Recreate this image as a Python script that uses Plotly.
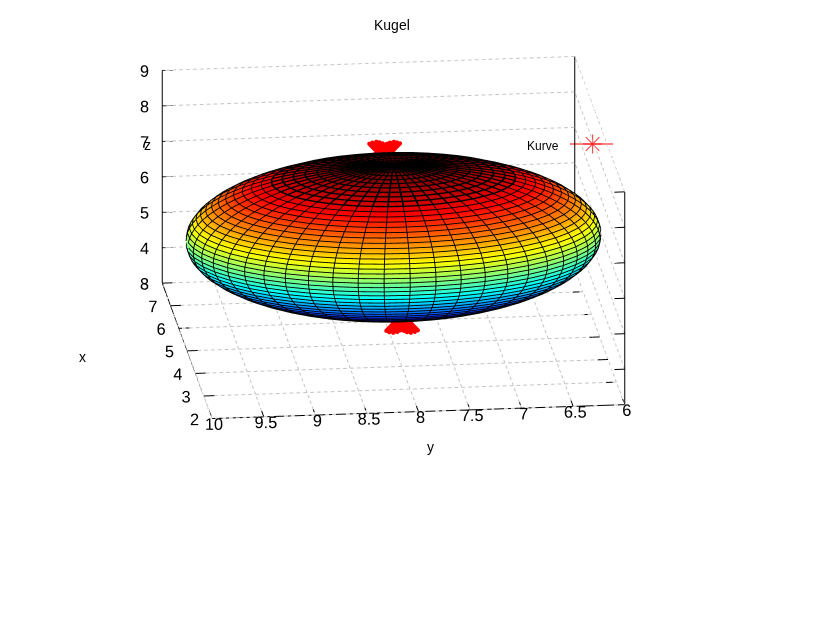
import plotly.graph_objects as go
import numpy as np

x_ticks = [2, 3, 4, 5, 6, 7, 8]
y_ticks = [6, 6.5, 7, 7.5, 8, 8.5, 9, 9.5, 10]
y_labels = ['6', '6.5', '7', '7.5', '8', '8.5', '9', '9.5', '10']
z_ticks = [3, 4, 5, 6, 7, 8, 9]

# sphere
center = [5, 8, 6]
radius = 2
n_seg = 50

# the red curve, two clusters of stars poking out behind the sphere
curve_x = [6.14, 6.14, 6.14, 6.14, 6.14, 5, 5, 5, 5, 5]
curve_y = [8.058, 8.029, 7.99, 7.961, 7.932, 7.985, 7.956, 7.918, 7.879, 7.85]
curve_z = [7.68, 7.71, 7.73, 7.71, 7.68, 3.62, 3.58, 3.56, 3.58, 3.62]

jet_anchors = [(0, '#00008f'), (0.125, '#0000ff'), (0.375, '#00ffff'), (0.625, '#ffff00'),
               (0.875, '#ff0000'), (1, '#800000')]


def jet_steps(n=64):
  stops = [a[0] for a in jet_anchors]
  rgb = np.array([[int(c[i:i+2], 16) for i in (1, 3, 5)] for _, c in jet_anchors])
  scale = []
  for k in range(n):
    m = (k + 0.5) / n
    col = [int(np.interp(m, stops, rgb[:, j])) for j in range(3)]
    c = 'rgb(%d,%d,%d)' % tuple(col)
    scale += [[k / n, c], [(k + 1) / n, c]]
  return scale


def sphere_grid(r):
  lat = np.linspace(-np.pi / 2, np.pi / 2, n_seg + 1)
  lon = np.linspace(-np.pi, np.pi, n_seg + 1)
  sx = center[0] + r * np.outer(np.cos(lat), np.cos(lon))
  sy = center[1] + r * np.outer(np.cos(lat), np.sin(lon))
  sz = center[2] + r * np.outer(np.sin(lat), np.ones_like(lon))
  return sx, sy, sz


def segs(pairs):
  xs, ys, zs = [], [], []
  for p1, p2 in pairs:
    xs += [p1[0], p2[0], None]
    ys += [p1[1], p2[1], None]
    zs += [p1[2], p2[2], None]
  return xs, ys, zs


def dashed(p1, p2, n):
  # scatter3d dash patterns come out far too long here, so cut the line up by hand
  p1, p2 = np.array(p1, float), np.array(p2, float)
  out = []
  for k in range(n):
    out.append((p1 + (p2 - p1) * k / n, p1 + (p2 - p1) * (k + 0.55) / n))
  return out


def wires(i_from, i_to, width):
  # rings i_from..i_to and the meridian pieces between them
  wx, wy, wz = sphere_grid(radius * 1.004)
  xs, ys, zs = [], [], []
  for i in range(max(i_from, 1), min(i_to, n_seg - 1) + 1):
    xs += list(wx[i, :]) + [None]
    ys += list(wy[i, :]) + [None]
    zs += list(wz[i, :]) + [None]
  for j in range(n_seg):
    xs += list(wx[i_from:i_to + 1, j]) + [None]
    ys += list(wy[i_from:i_to + 1, j]) + [None]
    zs += list(wz[i_from:i_to + 1, j]) + [None]
  return go.Scatter3d(x=xs, y=ys, z=zs, mode='lines', showlegend=False, hoverinfo='skip',
                      line=dict(color='black', width=width))


fig = go.Figure()

# dashed grid: floor and the two back walls
grid = []
for y in y_ticks:
  grid += dashed((2, y, 3), (8, y, 3), 24)
for x in x_ticks:
  grid += dashed((x, 6, 3), (x, 10, 3), 60)
for z in z_ticks:
  grid += dashed((8, 6, z), (8, 10, z), 60)
  grid += dashed((2, 6, z), (8, 6, z), 24)
gx, gy, gz = segs(grid)
fig.add_trace(go.Scatter3d(x=gx, y=gy, z=gz, mode='lines', showlegend=False, hoverinfo='skip',
                           line=dict(color='#c4c4c4', width=2)))

# box edges and inward ticks
box = [((2, 10, 3), (8, 10, 3)), ((2, 10, 3), (2, 6, 3)), ((8, 10, 3), (8, 10, 9)),
       ((2, 6, 3), (2, 6, 9)), ((8, 6, 3), (8, 6, 9))]
box += [((x, 10, 3), (x, 9.9, 3)) for x in x_ticks] + [((x, 6, 3), (x, 6.1, 3)) for x in x_ticks]
box += [((2, y, 3), (2.25, y, 3)) for y in y_ticks]
box += [((8, 10, z), (8, 9.9, z)) for z in z_ticks] + [((2, 6, z), (2, 6.1, z)) for z in z_ticks]
bx, by, bz = segs(box)
fig.add_trace(go.Scatter3d(x=bx, y=by, z=bz, mode='lines', showlegend=False, hoverinfo='skip',
                           line=dict(color='black', width=2)))

sx, sy, sz = sphere_grid(radius)
fig.add_trace(go.Surface(x=sx, y=sy, z=sz, surfacecolor=sz, colorscale=jet_steps(), cmin=4, cmax=8,
                         showscale=False, hoverinfo='skip',
                         lighting=dict(ambient=1, diffuse=0, specular=0, roughness=1, fresnel=0)))

# mesh wires, heavier near the top where the original goes almost solid black
fig.add_trace(wires(0, 40, 1.8))
fig.add_trace(wires(40, 50, 3.5))

for sym in ['cross', 'x']:
  fig.add_trace(go.Scatter3d(x=curve_x, y=curve_y, z=curve_z, mode='markers', name='Kurve', showlegend=False,
                             marker=dict(symbol=sym, size=5, color='red')))

axis_common = dict(showgrid=False, zeroline=False, showline=False, showbackground=False, showspikes=False,
                   ticks='', tickangle=0, title=dict(text=''),
                   tickfont=dict(family='Liberation Sans', size=14, color='black'))

label = dict(xref='paper', yref='paper', showarrow=False, xanchor='center', yanchor='middle')

fig.update_layout(
    width=832, height=625,
    margin=dict(l=0, r=0, t=0, b=0),
    paper_bgcolor='white',
    plot_bgcolor='rgba(0,0,0,0)',
    showlegend=False,
    font=dict(family='Liberation Sans', color='black'),
    scene=dict(
        domain=dict(x=[0, 787 / 832], y=[150.5 / 625, 623.5 / 625]),
        xaxis=dict(range=[2, 8], tickvals=x_ticks, **axis_common),
        yaxis=dict(range=[6, 10], tickvals=y_ticks, ticktext=y_labels, **axis_common),
        zaxis=dict(range=[3, 9], tickvals=z_ticks, **axis_common),
        aspectmode='manual',
        aspectratio=dict(x=1.904, y=1.755, z=0.944),
        camera=dict(projection=dict(type='orthographic'),
                    up=dict(x=0, y=0, z=1),
                    eye=dict(x=-1.058, y=0.118, z=0.338)),
    ),
    annotations=[
        dict(text='Kugel', x=392 / 832, y=1 - 25 / 625, font=dict(size=14), **label),
        dict(text='x', x=82 / 832, y=1 - 357 / 625, font=dict(size=14), **label),
        dict(text='y', x=430 / 832, y=1 - 447 / 625, font=dict(size=14), **label),
        dict(text='z', x=147 / 832, y=1 - 145 / 625, font=dict(size=14), **label),
        dict(text='Kurve', x=543 / 832, y=1 - 146 / 625, font=dict(size=12), **label),
    ],
)

# legend key sits over the scene in its own small cartesian axes
fig.add_trace(go.Scatter(x=[0, 1.05, 2], y=[0, 0, 0], mode='lines+markers', name='Kurve', hoverinfo='skip',
                         line=dict(color='red', width=1.2),
                         marker=dict(symbol='asterisk-open', size=[0, 16, 0], color='red', line=dict(color='red', width=1.2)),
                         xaxis='x', yaxis='y'))
fig.update_layout(
    xaxis=dict(domain=[570 / 832, 613 / 832], range=[0, 2], visible=False, fixedrange=True),
    yaxis=dict(domain=[1 - 160 / 625, 1 - 128 / 625], range=[-1, 1], visible=False, fixedrange=True),
)

fig.write_html("out.html", config=dict(displayModeBar=False), post_script="document.body.style.margin='0';")
